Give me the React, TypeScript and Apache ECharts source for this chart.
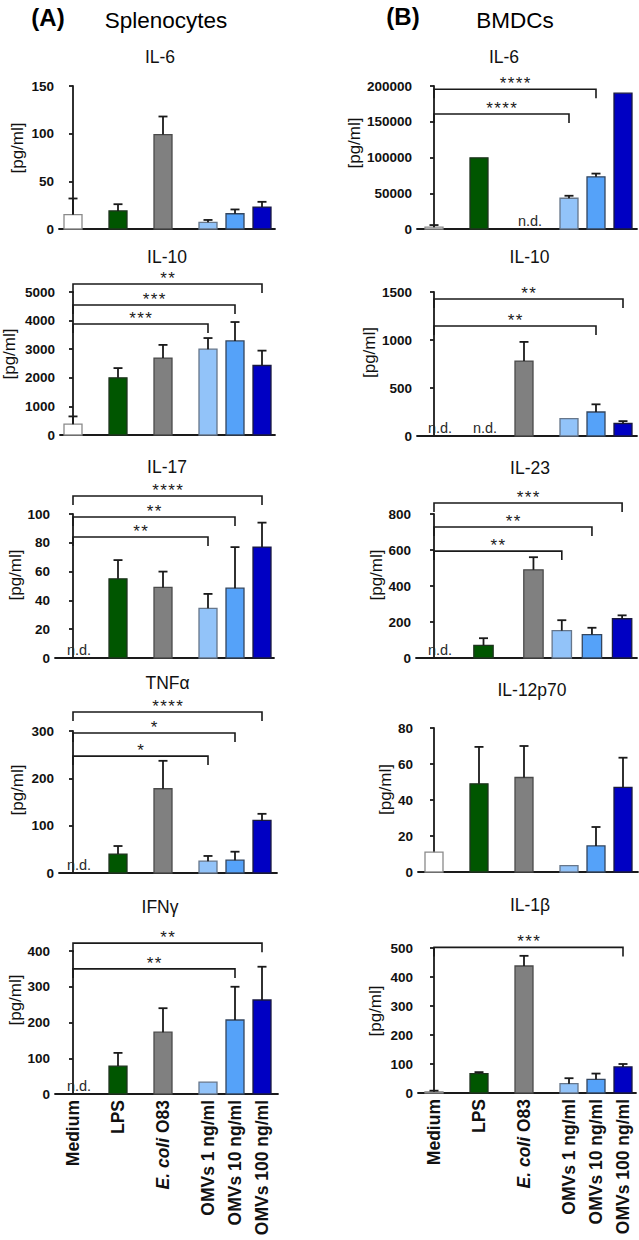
import React, { useEffect, useRef } from 'react';
import * as echarts from 'echarts';

const FONT = '"Liberation Sans", Arial, Helvetica, sans-serif';

// ---------- data ----------
const categories = ['Medium', 'LPS', 'E. coli O83', 'OMVs 1 ng/ml', 'OMVs 10 ng/ml', 'OMVs 100 ng/ml'];
const barColors = ['#ffffff', '#005600', '#808080', '#92c3f9', '#55a2f9', '#0000c3'];
const barBorders = ['#8a8a8a', '#1f331f', '#4a4a4a', '#66768a', '#34465e', '#1a1a40'];

const columnTitles = ['Splenocytes', 'BMDCs'];
const columnLetters = ['(A)', '(B)'];
const panelTitles = ['IL-6', 'IL-10', 'IL-17', 'TNFα', 'IFNγ', 'IL-6', 'IL-10', 'IL-23', 'IL-12p70', 'IL-1β'];
const yUnit = '[pg/ml]';
const notDetected = 'n.d.';

// Splenocytes
const splIL6Values = [15, 19, 99, 7, 16, 23];
const splIL6Errors = [17, 7, 19, 2.5, 4.5, 5.5];
const splIL10Values = [380, 2000, 2690, 3000, 3290, 2430];
const splIL10Errors = [270, 340, 460, 390, 660, 520];
const splIL17Values = [null, 55, 49, 34.5, 48.5, 77];
const splIL17Errors = [null, 13, 11, 10, 28.5, 17];
const splTNFValues = [null, 40, 178, 25, 27, 111];
const splTNFErrors = [null, 17, 59, 11, 18, 14];
const splIFNValues = [null, 78, 173, 33, 207, 263];
const splIFNErrors = [null, 37, 67, null, 93, 93];

// BMDCs
const bmIL6Values = [2500, 99500, null, 43000, 73000, 190000];
const bmIL6Errors = [3000, null, null, 3500, 4500, null];
const bmIL10Values = [null, null, 780, 180, 250, 130];
const bmIL10Errors = [null, null, 200, null, 80, 25];
const bmIL23Values = [null, 70, 490, 152, 130, 218];
const bmIL23Errors = [null, 40, 70, 58, 38, 19];
const bmIL12Values = [11, 49, 52.5, 3.5, 14.5, 47];
const bmIL12Errors = [null, 20.5, 17.5, null, 10.5, 16.5];
const bmIL1bValues = [4, 67, 438, 32, 47, 90];
const bmIL1bErrors = [4, 5, 35, 19, 20, 10];

// significance brackets: [fromIndex, toIndex, height (data units), number of stars]
const splIL6Brackets: number[][] = [];
const splIL10Brackets = [[0, 5, 5280, 2], [0, 4, 4545, 3], [0, 3, 3881, 3]];
const splIL17Brackets = [[0, 5, 112.5, 4], [0, 4, 97.9, 2], [0, 3, 84, 2]];
const splTNFBrackets = [[0, 5, 340, 4], [0, 4, 295.8, 1], [0, 3, 247, 1]];
const splIFNBrackets = [[0, 5, 422, 2], [0, 4, 350, 2]];
const bmIL6Brackets = [[0, 4, 195400, 4], [0, 3, 160800, 4]];
const bmIL10Brackets = [[0, 5, 1427, 2], [0, 4, 1146, 2]];
const bmIL23Brackets = [[0, 5, 861, 3], [0, 4, 728, 2], [0, 3, 594, 2]];
const bmIL12Brackets: number[][] = [];
const bmIL1bBrackets = [[0, 5, 502, 3]];

// y axis scales: max and step
const yMaxes = [150, 5000, 100, 300, 400, 200000, 1500, 800, 80, 500];
const ySteps = [50, 1000, 20, 100, 100, 50000, 500, 200, 20, 100];

const panelValues = [splIL6Values, splIL10Values, splIL17Values, splTNFValues, splIFNValues, bmIL6Values, bmIL10Values, bmIL23Values, bmIL12Values, bmIL1bValues];
const panelErrors = [splIL6Errors, splIL10Errors, splIL17Errors, splTNFErrors, splIFNErrors, bmIL6Errors, bmIL10Errors, bmIL23Errors, bmIL12Errors, bmIL1bErrors];
const panelBrackets = [splIL6Brackets, splIL10Brackets, splIL17Brackets, splTNFBrackets, splIFNBrackets, bmIL6Brackets, bmIL10Brackets, bmIL23Brackets, bmIL12Brackets, bmIL1bBrackets];

// ---------- layout ----------
// x positions of the groups along the hidden value x axis (1 unit = 45 px)
const categoryPositions = [0, 1, 2, 3, 3.6, 4.2];
const il23Positions = [0, 1.1, 2.21, 2.84, 3.51, 4.18];
const UNIT = 45;
const layout = [
  { axisLeft: 59, axisRight: 275, top: 86, bottom: 229, c0: 73, titleX: 160, titleY: 57, nameX: 17, nameY: 148 },
  { axisLeft: 60, axisRight: 275, top: 292, bottom: 435, c0: 73, titleX: 167, titleY: 257, nameX: 9, nameY: 354 },
  { axisLeft: 55, axisRight: 274, top: 514, bottom: 658, c0: 73, titleX: 167, titleY: 467, nameX: 15.5, nameY: 575 },
  { axisLeft: 59, axisRight: 277, top: 731, bottom: 873, c0: 73, titleX: 167.5, titleY: 683, nameX: 17.5, nameY: 790 },
  { axisLeft: 55, axisRight: 278, top: 951, bottom: 1094, c0: 73, titleX: 160, titleY: 907, nameX: 15.5, nameY: 1000 },
  { axisLeft: 417, axisRight: 637, top: 86, bottom: 229, c0: 434, titleX: 504, titleY: 57, nameX: 354.5, nameY: 143 },
  { axisLeft: 417, axisRight: 637, top: 292, bottom: 436, c0: 434, titleX: 529.5, titleY: 257, nameX: 369.5, nameY: 352.5 },
  { axisLeft: 416, axisRight: 637, top: 514, bottom: 658, c0: 434, titleX: 530, titleY: 468, nameX: 376.5, nameY: 575 },
  { axisLeft: 418, axisRight: 638, top: 728, bottom: 872, c0: 434, titleX: 532, titleY: 690, nameX: 385.5, nameY: 789.5 },
  { axisLeft: 418, axisRight: 636, top: 948, bottom: 1093, c0: 434, titleX: 530, titleY: 905, nameX: 375.5, nameY: 1011 },
];
const panelPositions = layout.map((_, gi) => (gi === 7 ? il23Positions : categoryPositions));
const panelBarHalf = layout.map((_, gi) => (gi === 7 ? 0.215 : 0.2));
const headerPos = [
  { letterX: 48, letterY: 17, titleX: 166, titleY: 20 },
  { letterX: 403, letterY: 16, titleX: 515, titleY: 20 },
];

const INK = '#1a1a1a';

function labelFor(v: number) {
  let best = 0;
  categoryPositions.forEach((p, i) => {
    if (Math.abs(p - v) < Math.abs(categoryPositions[best] - v)) best = i;
  });
  if (best === 2) return '{i|E. coli} O83';
  return categories[best];
}

function buildOption() {
  const grid: any[] = [];
  const xAxis: any[] = [];
  const yAxis: any[] = [];
  const series: any[] = [];
  const graphic: any[] = [];

  layout.forEach((L, gi) => {
    const isBottom = gi === 4 || gi === 9;
    const pos = panelPositions[gi];
    const half = panelBarHalf[gi];
    grid.push({ left: L.axisLeft, top: L.top, width: L.axisRight - L.axisLeft, height: L.bottom - L.top });
    xAxis.push({
      type: 'value',
      gridIndex: gi,
      min: (L.axisLeft - L.c0) / UNIT,
      max: (L.axisRight - L.c0) / UNIT,
      axisLine: { show: true, onZero: false, lineStyle: { color: INK, width: 1.8 } },
      axisTick: { show: false },
      splitLine: { show: false },
      axisLabel: isBottom
        ? {
            show: true,
            customValues: categoryPositions,
            rotate: 90,
            margin: 6,
            fontSize: 17.5,
            fontWeight: 'bold',
            fontFamily: FONT,
            color: '#111',
            formatter: (v: number) => labelFor(v),
            rich: { i: { fontStyle: 'italic', fontWeight: 'bold', fontSize: 17.5, fontFamily: FONT, color: '#111' } },
          }
        : { show: false },
    });
    yAxis.push({
      type: 'value',
      gridIndex: gi,
      min: 0,
      max: yMaxes[gi],
      interval: ySteps[gi],
      axisLine: { show: true, lineStyle: { color: INK, width: 1.8 } },
      axisTick: { show: true, length: 4, lineStyle: { color: INK, width: 1.8 } },
      splitLine: { show: false },
      axisLabel: { margin: 5, fontSize: 13.5, fontWeight: 'bold', fontFamily: FONT, color: '#111', formatter: (v: number) => String(v) },
    });

    const values = panelValues[gi];
    const errors = panelErrors[gi];

    // bars
    series.push({
      type: 'custom',
      xAxisIndex: gi,
      yAxisIndex: gi,
      z: 2,
      data: values.map((v, i) => (v == null ? null : [pos[i], v, i])).filter((d) => d),
      renderItem: (_p: any, api: any) => {
        const x = api.value(0);
        const v = api.value(1);
        const ci = api.value(2);
        const a = api.coord([x - half, v]);
        const b = api.coord([x + half, 0]);
        return {
          type: 'rect',
          shape: { x: a[0], y: a[1], width: b[0] - a[0], height: b[1] - a[1] },
          style: { fill: barColors[ci], stroke: barBorders[ci], lineWidth: 1.3 },
        };
      },
    });

    // error bars (upper only)
    series.push({
      type: 'custom',
      xAxisIndex: gi,
      yAxisIndex: gi,
      z: 3,
      data: values
        .map((v, i) => (v == null || errors[i] == null ? null : [pos[i], v, errors[i]]))
        .filter((d) => d),
      renderItem: (_p: any, api: any) => {
        const x = api.value(0);
        const v = api.value(1);
        const e = api.value(2);
        const b = api.coord([x, v]);
        const t = api.coord([x, v + e]);
        const st = { stroke: INK, lineWidth: 1.8 };
        return {
          type: 'group',
          children: [
            { type: 'line', shape: { x1: b[0], y1: b[1], x2: t[0], y2: t[1] }, style: st },
            { type: 'line', shape: { x1: t[0] - 4.5, y1: t[1], x2: t[0] + 4.5, y2: t[1] }, style: st },
          ],
        };
      },
    });

    // n.d. labels
    const nd = values.map((v, i) => (v == null ? [pos[i], 0] : null)).filter((d) => d);
    if (nd.length) {
      series.push({
        type: 'custom',
        xAxisIndex: gi,
        yAxisIndex: gi,
        z: 4,
        data: nd,
        renderItem: (_p: any, api: any) => {
          const c = api.coord([api.value(0), 0]);
          return {
            type: 'text',
            x: c[0] + 6,
            y: c[1] - 1,
            style: { text: notDetected, fontSize: 14.5, fontFamily: FONT, fill: '#2a2a2a', align: 'center', verticalAlign: 'bottom' },
          };
        },
      });
    }

    // significance brackets
    const br = panelBrackets[gi];
    if (br.length) {
      series.push({
        type: 'custom',
        xAxisIndex: gi,
        yAxisIndex: gi,
        z: 5,
        data: br.map((b) => [pos[b[0]], pos[b[1]], b[2], b[3]]),
        renderItem: (_p: any, api: any) => {
          const p1 = api.coord([api.value(0), api.value(2)]);
          const p2 = api.coord([api.value(1), api.value(2)]);
          const n = api.value(3);
          const drop = 9;
          return {
            type: 'group',
            children: [
              {
                type: 'polyline',
                shape: { points: [[p1[0], p1[1] + drop], [p1[0], p1[1]], [p2[0], p2[1]], [p2[0], p2[1] + drop]] },
                style: { stroke: INK, lineWidth: 1.6, fill: 'none' },
              },
              {
                type: 'text',
                x: (p1[0] + p2[0]) / 2,
                y: p1[1] - 5.5,
                style: {
                  text: Array(n).fill('*').join('\u200A'),
                  fontSize: 17,
                  fontFamily: FONT,
                  fill: INK,
                  align: 'center',
                  verticalAlign: 'middle',
                },
              },
            ],
          };
        },
      });
    }

    // panel title
    graphic.push({
      type: 'text',
      x: L.titleX,
      y: L.titleY,
      style: { text: panelTitles[gi], fontSize: 17.5, fontFamily: FONT, fill: '#111', align: 'center', verticalAlign: 'middle' },
    });
    // y axis unit label
    graphic.push({
      type: 'text',
      x: L.nameX,
      y: L.nameY,
      rotation: Math.PI / 2,
      style: { text: yUnit, fontSize: 17, fontFamily: FONT, fill: '#111', align: 'center', verticalAlign: 'middle' },
    });
  });

  headerPos.forEach((h, i) => {
    graphic.push({
      type: 'text',
      x: h.letterX,
      y: h.letterY,
      style: { text: columnLetters[i], fontSize: 24, fontWeight: 'bold', fontFamily: FONT, fill: '#000', align: 'center', verticalAlign: 'middle' },
    });
    graphic.push({
      type: 'text',
      x: h.titleX,
      y: h.titleY,
      style: { text: columnTitles[i], fontSize: 22.5, fontFamily: FONT, fill: '#000', align: 'center', verticalAlign: 'middle' },
    });
  });

  return { animation: false, backgroundColor: '#ffffff', grid, xAxis, yAxis, series, graphic };
}

export default function App() {
  const ref = useRef<HTMLDivElement>(null);
  useEffect(() => {
    document.body.style.margin = '0';
    if (!ref.current) return;
    const chart = echarts.init(ref.current, null, { renderer: 'svg' });
    chart.setOption(buildOption() as any);
    return () => chart.dispose();
  }, []);
  return <div ref={ref} style={{ position: 'absolute', left: 0, top: 0, width: 639, height: 1240 }} />;
}
